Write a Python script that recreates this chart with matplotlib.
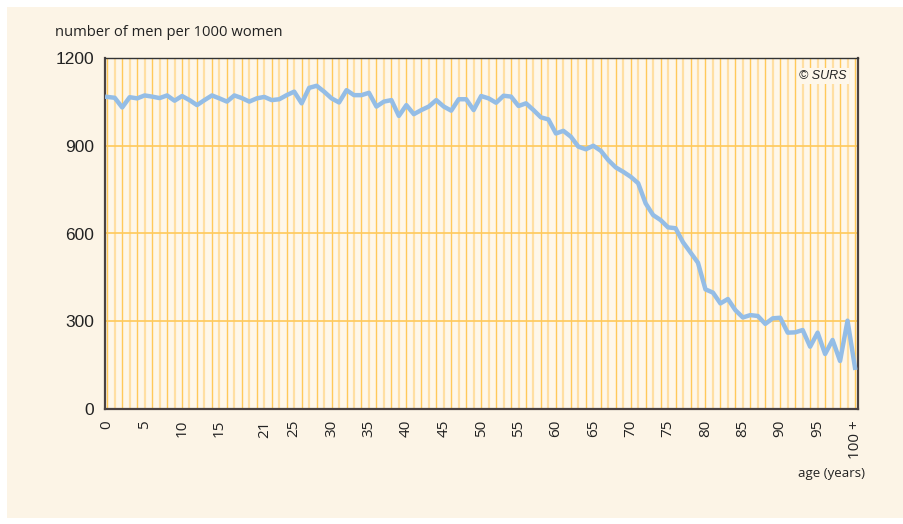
import numpy as np
import matplotlib.pyplot as plt
from matplotlib.patches import Rectangle

# men per 1000 women by age (0 .. 100+)
ages = list(range(0, 101))
men_per_1000 = [1067, 1064, 1031, 1066, 1062, 1072, 1068, 1063, 1072, 1054,
                1070, 1056, 1039, 1056, 1072, 1062, 1051, 1072, 1063, 1051,
                1062, 1067, 1056, 1059, 1073, 1085, 1045, 1098, 1105, 1085,
                1062, 1048, 1090, 1073, 1073, 1081, 1034, 1051, 1056, 1002,
                1039, 1008, 1022, 1034, 1056, 1034, 1020, 1059, 1059, 1022,
                1070, 1062, 1047, 1071, 1068, 1036, 1045, 1022, 997, 990,
                942, 951, 931, 897, 888, 900, 883, 851, 826, 811,
                794, 772, 703, 663, 646, 621, 618, 570, 535, 500,
                409, 398, 361, 376, 338, 313, 321, 318, 291, 310,
                312, 261, 262, 270, 213, 261, 188, 236, 164, 302,
                141]
xtick_pos = [0, 5, 10, 15, 21, 25, 30, 35, 40, 45, 50, 55, 60, 65, 70, 75, 80, 85, 90, 95, 100]
xtick_labels = [str(v) for v in xtick_pos[:-1]] + ['100 +']
ytick_pos = [0, 300, 600, 900, 1200]

fig = plt.figure(figsize=(9.04, 5.24), dpi=100)
fig.patch.set_facecolor('white')
# cream background panel
fig.add_artist(Rectangle((7 / 904, 6 / 524), 897 / 904, 511 / 524,
                         transform=fig.transFigure, facecolor='#FCF4E6',
                         edgecolor='none', zorder=-5))

ax = fig.add_axes([105 / 904, 1 - 409 / 524, 753 / 904, 351 / 524])
ax.set_zorder(2)
ax.set_facecolor('#FEF7EA')

# yearly vertical grid, alternating tones
for a in ages:
    if a % 2 == 0:
        ax.axvline(a, color='#FFC95A', lw=1.0, zorder=1)
    else:
        ax.axvline(a, color='#FFDFA3', lw=1.6, zorder=1)
for v in ytick_pos[1:-1]:
    ax.axhline(v, color='#FFC95A', lw=1.2, zorder=1)

ax.plot(ages, men_per_1000, color='#94BDE6', lw=3.2, zorder=3, solid_joinstyle='round')

ax.set_xlim(-0.3, 100.4)
ax.set_ylim(0, 1200)
ax.set_yticks(ytick_pos)
ax.set_yticklabels([str(v) for v in ytick_pos], family='Liberation Sans', fontsize=12.5, color='#222222')
ax.set_xticks(xtick_pos)
ax.set_xticklabels(xtick_labels, rotation=90, family='Open Sans', fontsize=11, color='#222222')
ax.tick_params(axis='both', length=0)
ax.tick_params(axis='y', pad=8)
ax.tick_params(axis='x', pad=8)

for s in ['left', 'bottom']:
    ax.spines[s].set_color('#4A4242')
    ax.spines[s].set_linewidth(1.6)
ax.spines['top'].set_color('#333333')
ax.spines['top'].set_linewidth(1.0)
ax.spines['right'].set_color('#4A4242')
ax.spines['right'].set_linewidth(1.6)

ax.text(0.985, 0.965, '© SURS', transform=ax.transAxes, ha='right', va='top',
        fontsize=9, style='italic', family='Liberation Sans', color='#222222',
        bbox=dict(facecolor='#FEF7EA', edgecolor='none', pad=1.5), zorder=4)

fig.text(55 / 904, 1 - 32 / 524, 'number of men per 1000 women', ha='left', va='center',
         family='Open Sans', fontsize=10.6, color='#222222')
fig.text(865 / 904, 1 - 473 / 524, 'age (years)', ha='right', va='center',
         family='Open Sans', fontsize=9.5, color='#222222')

fig.savefig('out.png', dpi=100)
